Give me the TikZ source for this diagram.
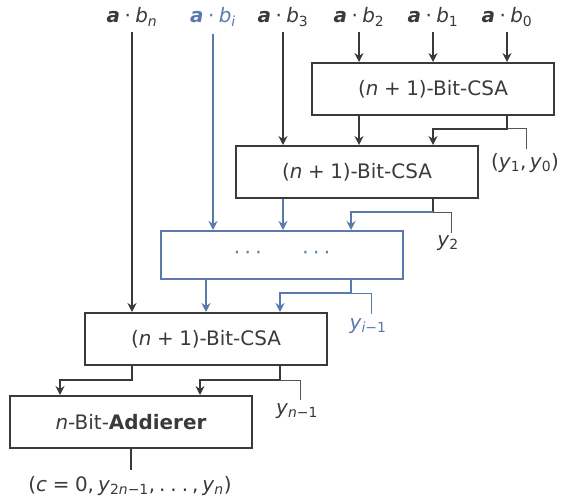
\documentclass[tikz,border=0pt]{standalone}
\usepackage{fontspec}
\setmainfont{DejaVu Sans}
\usetikzlibrary{arrows.meta}
\definecolor{dg}{HTML}{3A3A3A}
\definecolor{bl}{HTML}{5A7AAC}
\definecolor{gy}{HTML}{555555}
\newcommand\ms{\hspace{0.22em}}
\newcommand\ab[1]{\textbf{\textit{a}}\ms·\ms\textit{b}\textsubscript{#1}}
\newcommand\csatext{(\textit{n}\hspace{0.28em}+\hspace{0.28em}1)-Bit-CSA}
\begin{document}
\begin{tikzpicture}[x=1bp,y=-1bp,font=\fontsize{20}{24}\selectfont]
\tikzset{
 box/.style={draw=dg, line width=2bp, minimum width=242bp, minimum height=52bp, inner sep=0pt, text=dg},
 arr/.style={draw=dg, line width=1.8bp, -{Stealth[length=9bp,width=9bp,inset=3bp]}},
 barr/.style={arr, draw=bl},
 tick/.style={draw=gy, line width=1bp},
 btick/.style={draw=bl, line width=1bp},
 lbl/.style={text=dg, anchor=base, inner sep=0pt},
}
\useasboundingbox (0,0) rectangle (563,497);

% top labels
\node[lbl] (bn) at (132,23) {\ab{\textit{n}}};
\node[lbl,text=bl] (bi) at (213,23) {\ab{\textit{i}}};
\node[lbl] (b3) at (283,23) {\ab{3}};
\node[lbl] (b2) at (359,23) {\ab{2}};
\node[lbl] (b1) at (433,23) {\ab{1}};
\node[lbl] (b0) at (507,23) {\ab{0}};

% boxes
\node[box] (csa1) at (433,89) {\csatext};
\node[box] (csa2) at (357,172) {\csatext};
\node[box,draw=bl,text=bl,minimum height=48bp] (dots) at (282,255) {·\ms·\ms·\hspace{2.05em}·\ms·\ms·};
\node[box] (csa3) at (206,339) {\csatext};
\node[box] (add) at (131,422) {\textit{n}-Bit-\textbf{Addierer}};

% inputs
\draw[arr] ([yshift=-9bp]bn.base) -- (bn.base |- csa3.north);
\draw[barr] ([yshift=-11bp]bi.base) -- (bi.base |- dots.north);
\draw[arr] ([yshift=-9bp]b3.base) -- (b3.base |- csa2.north);
\draw[arr] ([yshift=-9bp]b2.base) -- (b2.base |- csa1.north);
\draw[arr] ([yshift=-9bp]b1.base) -- (b1.base |- csa1.north);
\draw[arr] ([yshift=-9bp]b0.base) -- (b0.base |- csa1.north);

% CSA1 outputs
\draw[arr] (b2.base |- csa1.south) -- (b2.base |- csa2.north);
\draw[arr] (b0.base |- csa1.south) -- ++(0,13) coordinate (k1) -| (b1.base |- csa2.north);
\draw[tick] (k1) -- ++(19,0) -- ++(0,20);
\node[text=dg] (y10) at (525,163) {(\textit{y}\textsubscript{1},\,\textit{y}\textsubscript{0})};

% CSA2 outputs
\coordinate (c2a) at (b3.base |- csa2.south);
\draw[barr] (c2a) -- (c2a |- dots.north);
\draw[dg, line width=1.8bp] (b1.base |- csa2.south) -- ++(0,13) coordinate (k2);
\draw[barr] (k2) -| ([xshift=-82bp]k2 |- dots.north);
\draw[tick] (k2) -- ++(18,0) -- ++(0,21);
\node[text=dg] (y2) at (448,243) {\textit{y}\textsubscript{2}};

% dots outputs
\coordinate (d1) at ([xshift=-76bp]dots.south);
\draw[barr] (d1) -- (d1 |- csa3.north);
\coordinate (d2) at ([xshift=-82bp]k2 |- dots.south);
\draw[barr] (d2) -- ++(0,13) coordinate (k3) -| ([xshift=-71bp]k3 |- csa3.north);
\draw[btick] (k3) -- ++(20,0) -- ++(0,21);
\node[text=bl] (yi) at (368,326) {\textit{y}\textsubscript{\textit{i}−1}};

% CSA3 outputs
\draw[arr] (bn.base |- csa3.south) -- ++(0,14) -| ([xshift=-72bp]bn.base |- add.north);
\coordinate (c3b) at ([xshift=-71bp]k3 |- csa3.south);
\draw[arr] (c3b) -- ++(0,14) coordinate (k4) -| ([xshift=-80bp]k4 |- add.north);
\draw[tick] (k4) -- ++(20,0) -- ++(0,20);
\node[text=dg] (yn1) at (297,411) {\textit{y}\textsubscript{\textit{n}−1}};

% adder output
\draw[dg, line width=1.4bp] (add.south) -- ++(0,21) coordinate (o);
\node[text=dg] (out) at (130,486) {(\textit{c}\hspace{0.28em}=\hspace{0.28em}0,\hspace{0.2em}\textit{y}\textsubscript{2\textit{n}−1},\hspace{0.2em}.\hspace{0.25em}.\hspace{0.25em}.\hspace{0.2em},\hspace{0.2em}\textit{y}\textsubscript{\textit{n}})};
\end{tikzpicture}
\end{document}
